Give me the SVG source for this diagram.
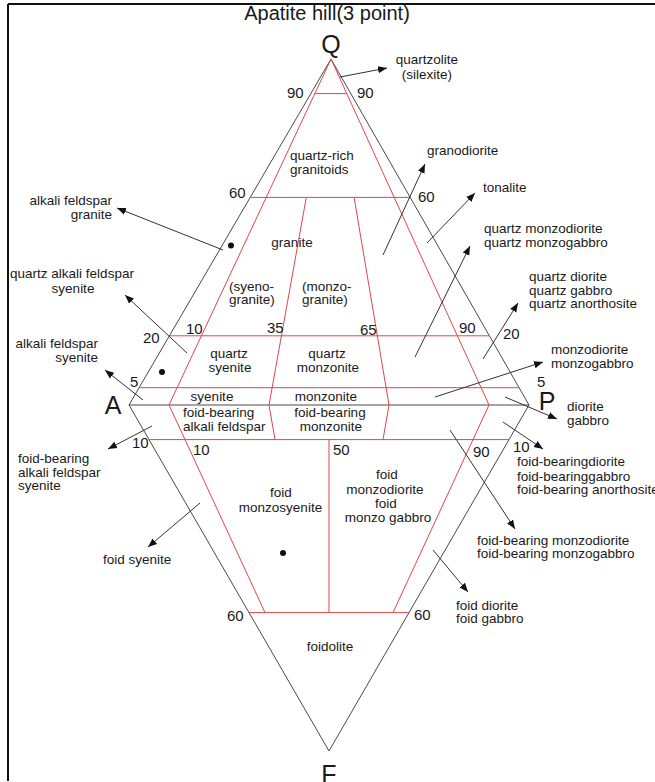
<svg xmlns="http://www.w3.org/2000/svg" width="655" height="782" viewBox="0 0 655 782">
<defs>
<style>
.bk{fill:none;stroke:#4a4a4a;stroke-width:1}
.rd{fill:none;stroke:#e0464a;stroke-width:1}
.ar{fill:none;stroke:#333;stroke-width:1}
text{font-family:"Liberation Sans",Arial,sans-serif;fill:#1a1a1a}
.lb{font-size:13.5px}
.nm{font-size:15px}
.vx{font-size:25px}
.c{text-anchor:middle}
.r{text-anchor:end}
</style>
<marker id="ah" viewBox="0 0 10 10" refX="10" refY="5" markerWidth="9" markerHeight="9" markerUnits="userSpaceOnUse" orient="auto">
<path d="M0,1 L10,5 L0,9 Z" fill="#111"/>
</marker>
</defs>
<rect x="0" y="0" width="655" height="782" fill="#fff"/>

<g id="frame">
<line x1="8" y1="4" x2="655" y2="4" stroke="#111" stroke-width="2"/>
<line x1="8" y1="4" x2="8" y2="781" stroke="#111" stroke-width="2"/>
</g>

<g id="title"><text x="327" y="20" class="c" style="font-size:20px">Apatite hill(3 point)</text></g>

<g id="outline">
<polygon class="bk" points="331,59 129,405 329,751 529,405"/>
<line class="bk" x1="129" y1="405" x2="529" y2="405"/>
</g>

<g id="fields">
<polyline class="rd" points="331,59 169,405 265,612.6"/>
<polyline class="rd" points="331,59 489,405 393,612.6"/>
<polyline class="rd" points="306.3,197.4 269,405 275,439.6"/>
<polyline class="rd" points="354.1,197.4 389,405 383,439.6"/>
<line class="rd" x1="329" y1="439.6" x2="329" y2="612.6"/>
<line class="rd" x1="314.8" y1="93.6" x2="346.8" y2="93.6"/>
<line class="rd" x1="250.2" y1="197.4" x2="410.2" y2="197.4"/>
<line class="rd" x1="169.4" y1="335.8" x2="489.4" y2="335.8"/>
<line class="rd" x1="139.1" y1="387.7" x2="519.1" y2="387.7"/>
<line class="rd" x1="149" y1="439.6" x2="509" y2="439.6"/>
<line class="rd" x1="249" y1="612.6" x2="409" y2="612.6"/>
</g>

<g id="vertices">
<text x="331" y="53" class="vx c">Q</text>
<text x="113" y="414" class="vx c">A</text>
<text x="547" y="410" class="vx c">P</text>
<text x="329" y="783" class="vx c">F</text>
</g>

<g id="numbers" class="nm">
<text x="287" y="98">90</text>
<text x="357" y="98">90</text>
<text x="229" y="198">60</text>
<text x="418" y="202">60</text>
<text x="143" y="343">20</text>
<text x="186" y="334">10</text>
<text x="267" y="333">35</text>
<text x="360" y="335">65</text>
<text x="459" y="333">90</text>
<text x="503" y="339">20</text>
<text x="130" y="387">5</text>
<text x="537" y="387">5</text>
<text x="132" y="448">10</text>
<text x="193" y="455">10</text>
<text x="333" y="455">50</text>
<text x="473" y="457">90</text>
<text x="513" y="452">10</text>
<text x="227" y="621">60</text>
<text x="414" y="620">60</text>
</g>

<g id="field-labels" class="lb">
<text x="290" y="160">quartz-rich</text>
<text x="290" y="174">granitoids</text>
<text x="292" y="247" class="c">granite</text>
<text x="229" y="291">(syeno-</text>
<text x="229" y="304">granite)</text>
<text x="302" y="291">(monzo-</text>
<text x="302" y="304">granite)</text>
<text x="229" y="358" class="c">quartz</text>
<text x="230" y="372" class="c">syenite</text>
<text x="327" y="358" class="c">quartz</text>
<text x="328" y="372" class="c">monzonite</text>
<text x="212" y="401" class="c">syenite</text>
<text x="326" y="401" class="c">monzonite</text>
<text x="183" y="417">foid-bearing</text>
<text x="183" y="431">alkali feldspar</text>
<text x="330" y="417" class="c">foid-bearing</text>
<text x="331" y="431" class="c">monzonite</text>
<text x="281" y="497" class="c">foid</text>
<text x="280.5" y="512" class="c">monzosyenite</text>
<text x="387" y="479" class="c">foid</text>
<text x="385" y="494" class="c">monzodiorite</text>
<text x="386" y="508" class="c">foid</text>
<text x="388" y="522" class="c">monzo gabbro</text>
<text x="330" y="651" class="c">foidolite</text>
</g>

<g id="points" fill="#111">
<circle cx="231" cy="245.5" r="3"/>
<circle cx="162" cy="372" r="3"/>
<circle cx="283" cy="553" r="3"/>
</g>

<g id="outer-labels" class="lb">
<text x="427" y="64" class="c">quartzolite</text>
<text x="427" y="79" class="c">(silexite)</text>
<text x="112" y="205" class="r">alkali feldspar</text>
<text x="112" y="219" class="r">granite</text>
<text x="72" y="278" class="c">quartz alkali feldspar</text>
<text x="73" y="293" class="c">syenite</text>
<text x="98" y="348" class="r">alkali feldspar</text>
<text x="98" y="362" class="r">syenite</text>
<text x="18" y="463">foid-bearing</text>
<text x="18" y="477">alkali feldspar</text>
<text x="18" y="490">syenite</text>
<text x="103" y="564">foid syenite</text>
<text x="427" y="155">granodiorite</text>
<text x="483" y="192">tonalite</text>
<text x="484" y="233">quartz monzodiorite</text>
<text x="484" y="247">quartz monzogabbro</text>
<text x="529" y="281">quartz diorite</text>
<text x="529" y="295">quartz gabbro</text>
<text x="529" y="308">quartz anorthosite</text>
<text x="551" y="354">monzodiorite</text>
<text x="551" y="368">monzogabbro</text>
<text x="567" y="411">diorite</text>
<text x="567" y="425">gabbro</text>
<text x="517" y="466">foid-bearingdiorite</text>
<text x="517" y="481">foid-bearinggabbro</text>
<text x="517" y="494">foid-bearing anorthosite</text>
<text x="477" y="545">foid-bearing monzodiorite</text>
<text x="477" y="558">foid-bearing monzogabbro</text>
<text x="456" y="610">foid diorite</text>
<text x="456" y="623">foid gabbro</text>
</g>

<g id="connectors" class="ar" marker-end="url(#ah)">
<line x1="340" y1="77" x2="387" y2="68"/>
<line x1="223" y1="250" x2="117" y2="208"/>
<line x1="187" y1="353" x2="125" y2="295"/>
<line x1="143" y1="400" x2="105" y2="370"/>
<line x1="152" y1="426" x2="108" y2="449"/>
<line x1="200" y1="503" x2="148" y2="547"/>
<line x1="383" y1="255" x2="425" y2="164"/>
<line x1="427" y1="243" x2="475" y2="193"/>
<line x1="415" y1="357" x2="470" y2="246"/>
<line x1="483" y1="359" x2="518" y2="303"/>
<line x1="435" y1="397" x2="543" y2="362"/>
<line x1="505" y1="397" x2="557" y2="419"/>
<line x1="503" y1="422" x2="543" y2="449"/>
<line x1="450" y1="430" x2="515" y2="529"/>
<line x1="433" y1="550" x2="468" y2="592"/>
</g>
</svg>
